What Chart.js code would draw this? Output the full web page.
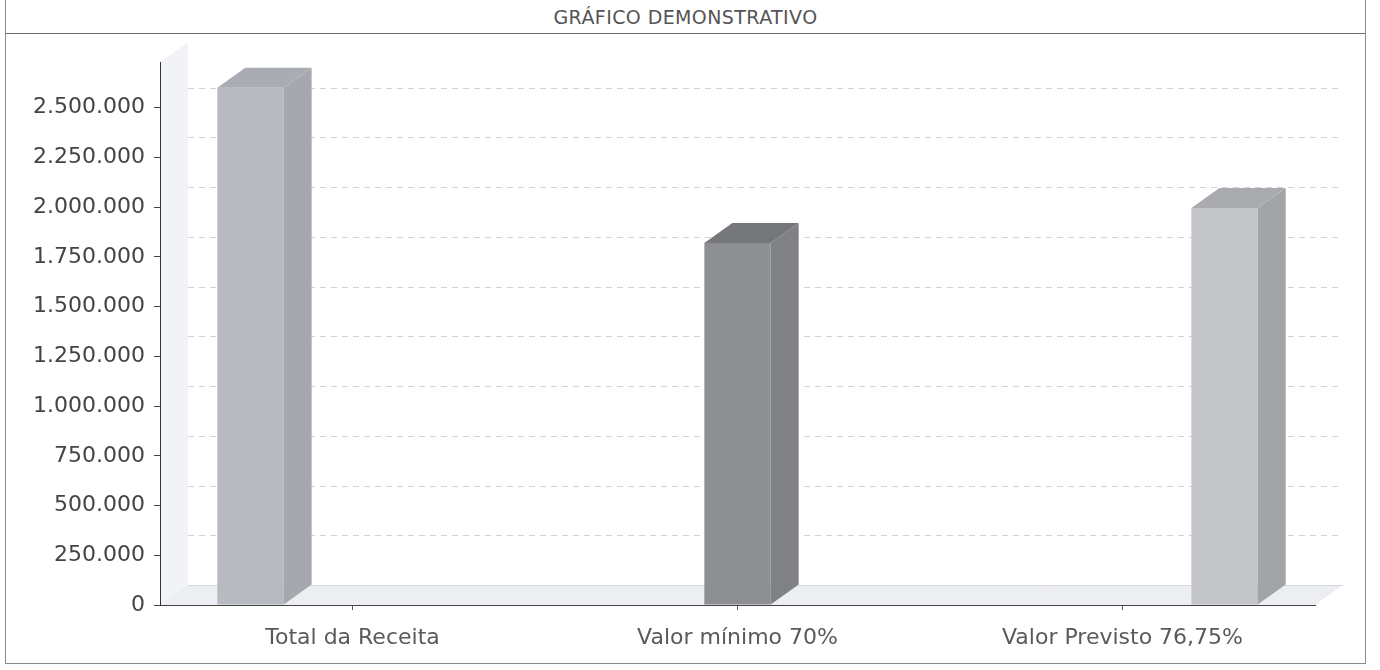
<!DOCTYPE html>
<html lang="pt-BR">
<head>
<meta charset="utf-8">
<title>Gráfico demonstrativo</title>
<script src="https://cdn.jsdelivr.net/npm/chart.js@4.4.1/dist/chart.umd.min.js"></script>
<style>
    body { margin: 0; background: #fff; }
    #quadro {
        position: absolute;
        left: 5px;
        top: -1px;
        width: 1359px;
        height: 663px;
        border: 1px solid #8a8a8a;
    }
    #titulo {
        height: 33px;
        line-height: 34px;
        border-bottom: 1px solid #6e6e6e;
        text-align: center;
        font-family: "DejaVu Sans", sans-serif;
        font-size: 19px;
        color: #555;
        letter-spacing: 0.4px;
    }
    #area { position: relative; width: 1359px; height: 629px; }
</style>
</head>
<body>
<div id="quadro">
    <div id="titulo">GRÁFICO DEMONSTRATIVO</div>
    <div id="area"><canvas id="grafico"></canvas></div>
</div>
<script>
// dados
const categorias = ["Total da Receita", "Valor mínimo 70%", "Valor Previsto 76,75%"];
const valores = [2600000, 1820000, 1995500];
const ticksEixo = [0, 250000, 500000, 750000, 1000000, 1250000, 1500000, 1750000, 2000000, 2250000, 2500000];
const coresFrente = ["#b7bac1", "#8d8f93", "#c3c5c9"];
const coresLado = ["#a5a8ae", "#7f8185", "#a2a4a8"];
const coresTopo = ["#a9acb2", "#75777b", "#a9abaf"];
const maximoEixo = 2730000;

// profundidade do efeito 3D
const dx = 28;
const dy = -20;

function formatarBR(v) {
    return String(v).replace(/\B(?=(\d{3})+(?!\d))/g, ".");
}

// um dataset por categoria, como no original (barras agrupadas)
const datasets = valores.map((v, i) => ({
    label: categorias[i],
    data: categorias.map((c, j) => (j === i ? v : null)),
    backgroundColor: coresFrente[i],
    ladoCor: coresLado[i],
    topoCor: coresTopo[i]
}));

// piso, parede e linhas de grade no fundo
const fundo3D = {
    id: "fundo3D",
    beforeDraw(chart) {
        const { ctx, chartArea: a, scales } = chart;
        ctx.save();
        // parede esquerda
        ctx.fillStyle = "#f1f3f6";
        ctx.beginPath();
        ctx.moveTo(a.left, a.bottom);
        ctx.lineTo(a.left + dx, a.bottom + dy);
        ctx.lineTo(a.left + dx, a.top + dy);
        ctx.lineTo(a.left, a.top);
        ctx.closePath();
        ctx.fill();
        // piso
        ctx.fillStyle = "#eceef1";
        ctx.beginPath();
        ctx.moveTo(a.left, a.bottom);
        ctx.lineTo(a.right, a.bottom);
        ctx.lineTo(a.right + dx, a.bottom + dy);
        ctx.lineTo(a.left + dx, a.bottom + dy);
        ctx.closePath();
        ctx.fill();
        ctx.strokeStyle = "#d4d7dc";
        ctx.lineWidth = 1;
        ctx.beginPath();
        ctx.moveTo(a.left + dx, a.bottom + dy + 0.5);
        ctx.lineTo(a.right + dx, a.bottom + dy + 0.5);
        ctx.stroke();
        // grade tracejada na parede do fundo
        ctx.strokeStyle = "#cfd3d9";
        ctx.setLineDash([6, 5]);
        scales.y.ticks.forEach(t => {
            if (t.value === 0) return;
            const y = Math.round(scales.y.getPixelForValue(t.value) + dy) + 0.5;
            ctx.beginPath();
            ctx.moveTo(a.left + dx, y);
            ctx.lineTo(a.right + dx, y);
            ctx.stroke();
        });
        ctx.restore();
    },
    afterDatasetsDraw(chart) {
        const { ctx } = chart;
        ctx.save();
        chart.data.datasets.forEach((ds, i) => {
            const meta = chart.getDatasetMeta(i);
            meta.data.forEach((bar, j) => {
                if (ds.data[j] == null) return;
                const p = bar.getProps(["x", "y", "base", "width"], true);
                const esq = p.x - p.width / 2;
                const dir = p.x + p.width / 2;
                // lado direito
                ctx.fillStyle = ds.ladoCor;
                ctx.beginPath();
                ctx.moveTo(dir, p.y);
                ctx.lineTo(dir + dx, p.y + dy);
                ctx.lineTo(dir + dx, p.base + dy);
                ctx.lineTo(dir, p.base);
                ctx.closePath();
                ctx.fill();
                // topo
                ctx.fillStyle = ds.topoCor;
                ctx.beginPath();
                ctx.moveTo(esq, p.y);
                ctx.lineTo(esq + dx, p.y + dy);
                ctx.lineTo(dir + dx, p.y + dy);
                ctx.lineTo(dir, p.y);
                ctx.closePath();
                ctx.fill();
            });
        });
        ctx.restore();
    }
};

const fonteEixo = { family: "DejaVu Sans", size: 22 };

new Chart(document.getElementById("grafico"), {
    type: "bar",
    data: { labels: categorias, datasets },
    options: {
        responsive: true,
        maintainAspectRatio: false,
        animation: false,
        layout: { padding: { top: 28, right: 50, left: 0, bottom: 0 } },
        datasets: {
            bar: { categoryPercentage: 0.795, barPercentage: 0.65 }
        },
        plugins: {
            legend: { display: false },
            title: { display: false },
            tooltip: { enabled: false }
        },
        scales: {
            x: {
                grid: {
                    offset: false,
                    drawOnChartArea: false,
                    tickLength: 5,
                    color: "#555"
                },
                border: { color: "#444", width: 1 },
                ticks: { font: fonteEixo, color: "#5a5a5a", padding: 15, maxRotation: 0 },
                afterFit(axis) { axis.height = 58; }
            },
            y: {
                min: 0,
                max: maximoEixo,
                grid: {
                    drawOnChartArea: false,
                    tickLength: 6,
                    color: "#444"
                },
                border: { color: "#333", width: 1 },
                ticks: {
                    font: fonteEixo,
                    color: "#444",
                    padding: 9,
                    autoSkip: false,
                    callback: v => formatarBR(v)
                },
                afterBuildTicks(axis) {
                    axis.ticks = ticksEixo.map(v => ({ value: v }));
                },
                afterFit(axis) { axis.width = 154; }
            }
        }
    },
    plugins: [fundo3D]
});
</script>
</body>
</html>
